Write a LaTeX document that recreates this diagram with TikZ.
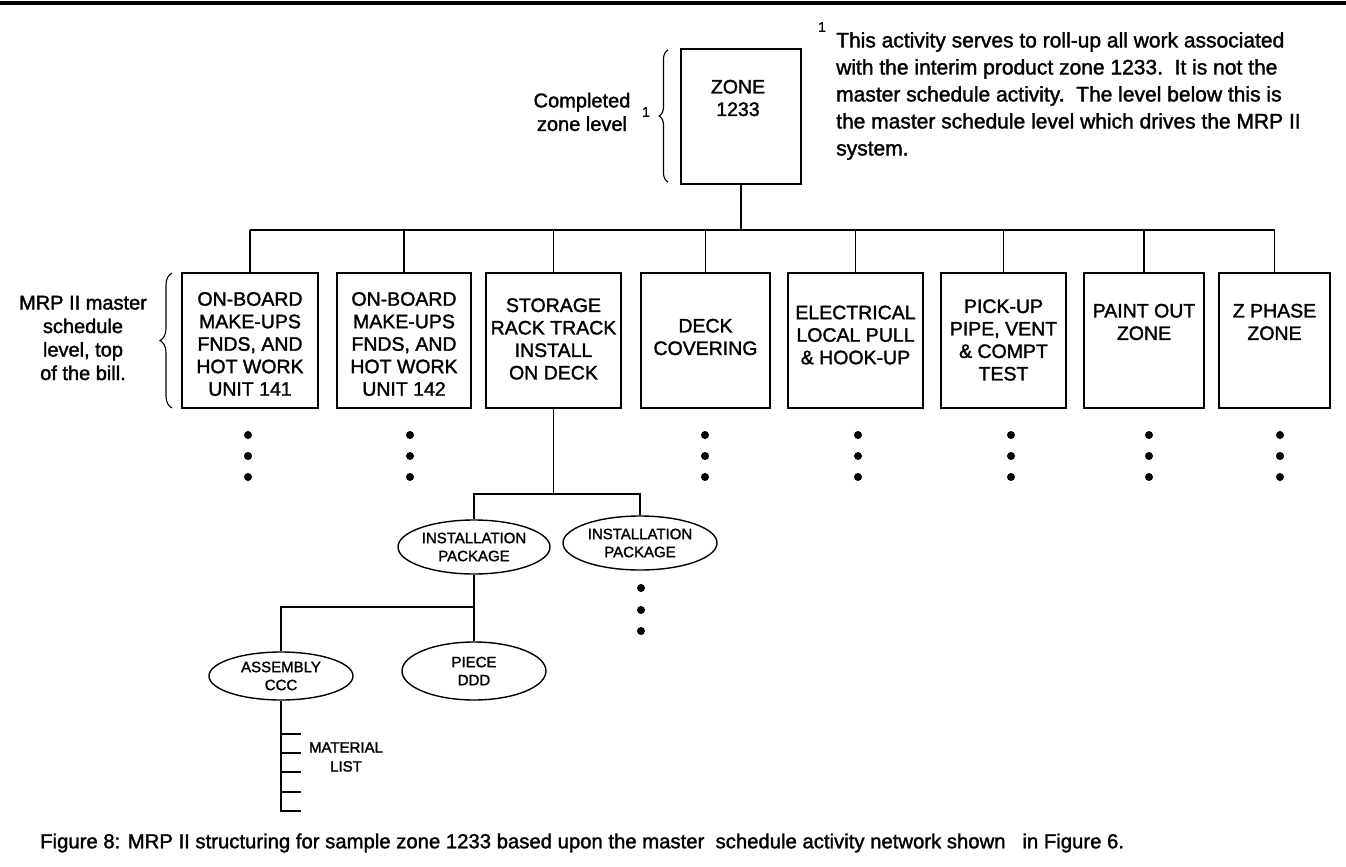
\documentclass[tikz,border=0pt]{standalone}
\usepackage{fontspec}
\setmainfont{Liberation Sans}[FakeBold=1.6]
\usetikzlibrary{shapes.geometric,decorations.pathreplacing}
\begin{document}
\begin{tikzpicture}[x=1pt,y=-1pt,
  abox/.style={draw,line width=1.5pt,minimum width=#1,minimum height=135pt,inner sep=0pt},
  btxt/.style={align=center,inner sep=0pt,font=\fontsize{19.5}{22.5}\selectfont},
  ell/.style={draw,ellipse,line width=1.4pt,inner sep=0pt,align=center,font=\fontsize{15}{18}\selectfont},
  lbl/.style={align=center,inner sep=0pt,font=\fontsize{20}{23.5}\selectfont},
  conn/.style={line width=1.5pt},
  brc/.style={decorate,line width=1.1pt},
  dot/.style={fill=black}]
\useasboundingbox (0,0) rectangle (1346,867);
\draw[line width=3.5pt] (0,3) -- (1346,3);

% top zone box
\node[draw,line width=1.5pt,minimum width=120pt,minimum height=135pt,inner sep=0pt] (zone) at (741,116.5) {};
\node[btxt] (zonet) at (738,98) {ZONE\\1233};
\draw[brc,decoration={brace,amplitude=9pt}] (668,182) -- (668,50);
\node[lbl] (cz) at (582,112) {Completed\\zone level};
\node[inner sep=0pt,font=\fontsize{14}{16}\selectfont] (cz1) at (646,112) {1};
\node[inner sep=0pt,font=\fontsize{14}{16}\selectfont] (n1) at (822,27) {1};
\node[anchor=north west,align=left,inner sep=0pt,font=\fontsize{21}{27}\selectfont] (note) at (836,32)
  {This activity serves to roll-up all work associated\\
   with the interim product zone 1233.\ \ It is not the\\
   master schedule activity.\ \ The level below this is\\
   the master schedule level which drives the MRP II\\
   system.};

% second level boxes
\node[abox=136pt] (b1) at (250,340.5) {};
\node[abox=134pt] (b2) at (404,340.5) {};
\node[abox=135pt] (b3) at (553.5,340.5) {};
\node[abox=129pt] (b4) at (705.5,340.5) {};
\node[abox=135pt] (b5) at (855.5,340.5) {};
\node[abox=125pt] (b6) at (1003.5,340.5) {};
\node[abox=120pt] (b7) at (1144,340.5) {};
\node[abox=111pt] (b8) at (1274.5,340.5) {};

\node[btxt] (t1) at (250,344) {ON-BOARD\\MAKE-UPS\\FNDS, AND\\HOT WORK\\UNIT 141};
\node[btxt] (t2) at (404,344) {ON-BOARD\\MAKE-UPS\\FNDS, AND\\HOT WORK\\UNIT 142};
\node[btxt] (t3) at (553.5,339) {STORAGE\\RACK TRACK\\INSTALL\\ON DECK};
\node[btxt] (t4) at (705.5,337) {DECK\\COVERING};
\node[btxt] (t5) at (855.5,335) {ELECTRICAL\\LOCAL PULL\\\& HOOK-UP};
\node[btxt] (t6) at (1003.5,340) {PICK-UP\\PIPE, VENT\\\& COMPT\\TEST};
\node[btxt] (t7) at (1144,322) {PAINT OUT\\ZONE};
\node[btxt] (t8) at (1274.5,322) {Z PHASE\\ZONE};

\draw[brc,decoration={brace,amplitude=12pt}] (172,408) -- (172,273);
\node[lbl] (mrp) at (83,338) {MRP II master\\schedule\\level, top\\of the bill.};

% bus
\coordinate (bus) at (741,230);
\draw[conn] (zone.south) -- (bus);
\draw[conn] (b1.north |- bus) -- (b8.north |- bus);
\foreach \b in {b1,b2,b3,b4,b5,b6,b7,b8}
  \draw[conn] (\b.north |- bus) -- (\b.north);

% dots
\foreach \x in {248,410,705,858,1011,1149,1280}
  \foreach \y in {435,456,477}
    \fill[dot] (\x,\y) circle (4pt);

% installation packages
\node[ell,minimum width=152pt,minimum height=54pt] (e1) at (474,547) {INSTALLATION\\PACKAGE};
\node[ell,minimum width=154pt,minimum height=54pt] (e2) at (640,543) {INSTALLATION\\PACKAGE};
\coordinate (j1) at (553.5,494);
\draw[conn] (b3.south) -- (j1);
\draw[conn] (e1.north) -- (e1.north |- j1) -- (e2.north |- j1) -- (e2.north);
\foreach \y in {588,610,631}
  \fill[dot] (641,\y) circle (4pt);

% assembly / piece
\node[ell,minimum width=144pt,minimum height=48pt] (e3) at (281,676) {ASSEMBLY\\CCC};
\node[ell,minimum width=144pt,minimum height=58pt] (e4) at (474,671) {PIECE\\DDD};
\coordinate (j2) at (474,607);
\draw[conn] (e1.south) -- (e4.north);
\draw[conn] (j2) -- (e3.north |- j2) -- (e3.north);

% material list
\coordinate (ml) at (281,812);
\draw[conn] (e3.south) -- (ml);
\foreach \y in {734,753,772,792,811}
  \draw[conn] (281,\y) -- (301,\y);
\node[align=center,inner sep=0pt,font=\fontsize{15}{19}\selectfont] (mlt) at (346,757) {MATERIAL\\LIST};

% caption
\node[anchor=west,inner sep=0pt,font=\fontsize{20.3}{22}\selectfont] (cap) at (40,843)
  {Figure 8: MRP II structuring for sample zone 1233 based upon the master\ \ schedule activity network shown\ \ \ in Figure 6.};
\end{tikzpicture}
\end{document}
